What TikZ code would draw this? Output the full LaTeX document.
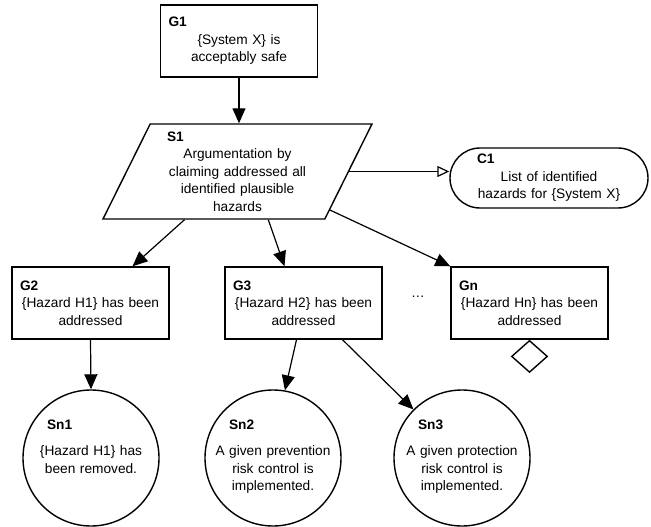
\documentclass[tikz,border=0pt]{standalone}
\usepackage{fontspec}
\setmainfont{Liberation Sans}
\usepackage{tikz}
\usetikzlibrary{positioning,shapes.geometric,arrows.meta,calc}

\newcommand{\gsnid}[2]{\makebox[#1][l]{\textbf{#2}}}

\begin{document}
\begin{tikzpicture}[
				x=1pt, y=-1pt,
				every node/.style={font=\fontsize{13.7}{17.5}\selectfont},
				goalnode/.style={rectangle, draw, line width=1.4pt, minimum width=157pt, minimum height=72pt, text width=141pt, align=center, inner sep=0pt},
				strategynode/.style={trapezium, trapezium left angle=60, trapezium right angle=120, trapezium stretches body, draw, line width=1.4pt, minimum width=269pt, minimum height=95pt, text width=141pt, align=center, inner sep=1pt},
				contextnode/.style={rectangle, rounded corners=30pt, draw, line width=1.4pt, minimum width=198pt, minimum height=60pt, text width=144pt, align=center, inner sep=0pt},
				solnode/.style={circle, draw, line width=1.4pt, minimum size=136pt, inner sep=0pt, text width=116pt, align=center, text height=0pt, text depth=58pt},
				undevnode/.style={diamond, draw, line width=1.4pt, minimum width=36pt, minimum height=32pt, inner sep=0pt},
				arrow/.style={line width=1.2pt, -{Triangle[length=15pt, width=13pt]}},
				ctxarrow/.style={line width=1.2pt, -{Triangle[open, length=12pt, width=11pt]}},
				]
				\useasboundingbox (0,0) rectangle (651,527);
				%Nodes
				\node[goalnode](g1) at (239,41){\gsnid{141pt}{G1}\\\{System X\} is\\acceptably safe};
				\node[strategynode](s1) at (237.5,171.5){\gsnid{141pt}{S1}\\Argumentation by\\claiming addressed all\\identified plausible\\hazards};
				\node[contextnode](c1) at (549,178){\gsnid{144pt}{C1}\\List of identified\\hazards for \{System X\}};
				\node[goalnode](g2) at (90.5,303){\gsnid{141pt}{G2}\\\{Hazard H1\} has been\\addressed};
				\node[goalnode](g3) at (303.5,303){\gsnid{141pt}{G3}\\\{Hazard H2\} has been\\addressed};
				\node(dots) at (418,297){\dots};
				\node[goalnode](gn) at (529.5,303){\gsnid{141pt}{Gn}\\\{Hazard Hn\} has been\\addressed};
				\node[undevnode, anchor=north](undev) at (gn.south){};
				\node[solnode](sn1) at (91,458){\gsnid{88pt}{Sn1}\\[9pt]\{Hazard H1\} has\\been removed.};
				\node[solnode](sn2) at (273,458){\gsnid{88pt}{Sn2}\\[9pt]A given prevention\\risk control is\\implemented.};
				\node[solnode](sn3) at (462,458){\gsnid{88pt}{Sn3}\\[9pt]A given protection\\risk control is\\implemented.};
				
				%Lines
				
				\draw[arrow] (g1.south) -- (g1.south |- s1.north);
				\draw[ctxarrow] (s1.east) -- (s1.east -| c1.west);
				\draw[arrow] ($(s1.bottom left corner)!0.37!(s1.bottom right corner)$) -- ([xshift=42pt]g2.north);
				\draw[arrow] ($(s1.bottom left corner)!0.745!(s1.bottom right corner)$) -- ([xshift=-19pt]g3.north);
				\draw[arrow] ($(s1.bottom right corner)!0.1!(s1.top right corner)$) -- (gn.north west);
				\draw[arrow] (g2.south) -- (sn1.north);
				\draw[arrow] ([xshift=-7pt]g3.south) -- (sn2.80);
				\draw[arrow] ([xshift=39pt]g3.south) -- (sn3.135);
				
\end{tikzpicture}
\end{document}
